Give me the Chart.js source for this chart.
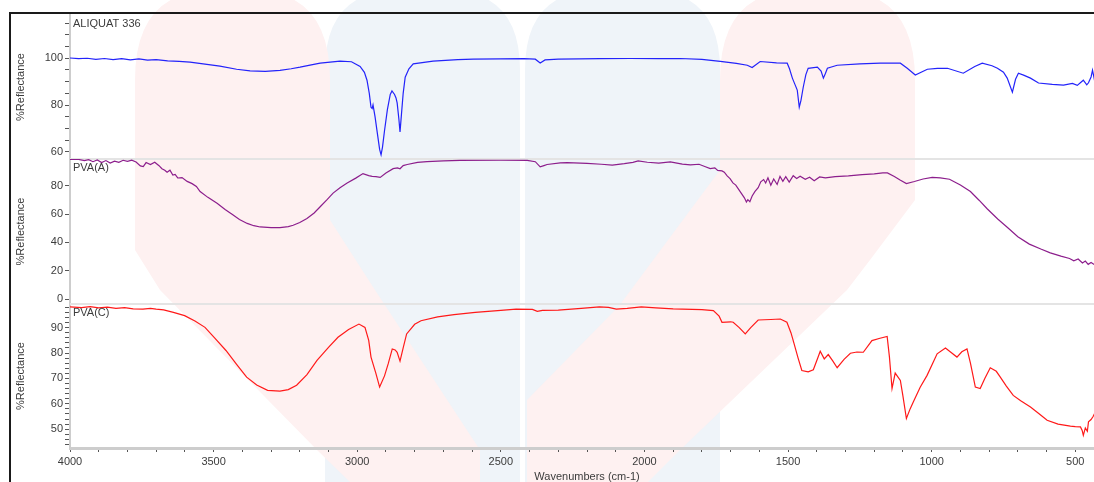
<!DOCTYPE html>
<html>
<head>
<meta charset="utf-8">
<script src="https://cdn.jsdelivr.net/npm/chart.js@4.4.1/dist/chart.umd.min.js"></script>
<style>
  html, body { margin: 0; padding: 0; background: #fff; overflow: hidden; }
  #wrap { position: relative; width: 1094px; height: 482px; overflow: hidden; }
  #ir { position: absolute; left: 0; top: 0; }
  #frame { position: absolute; left: 9px; top: 12px; width: 1200px; height: 600px;
           border-left: 2px solid #1a1a1a; border-top: 2px solid #1a1a1a; pointer-events: none; }
</style>
</head>
<body>
<div id="wrap">
  <canvas id="ir" width="1104" height="482"></canvas>
  <div id="frame"></div>
</div>
<script>
// spectra (wavenumber cm-1 / %reflectance)
const panelNames = ['ALIQUAT 336', 'PVA(A)', 'PVA(C)'];

const aliquatWn = [4000, 3970, 3940, 3910, 3880, 3850, 3820, 3790, 3760, 3730, 3700, 3660, 3620, 3582, 3530, 3478, 3420, 3373, 3320, 3269, 3230, 3199, 3160, 3129, 3060, 3020, 2990, 2975, 2966, 2958, 2952, 2948, 2945, 2938, 2930, 2922, 2917, 2912, 2905, 2895, 2885, 2879, 2870, 2865, 2861, 2855, 2851, 2846, 2840, 2833, 2820, 2805, 2736, 2650, 2596, 2502, 2420, 2380, 2363, 2346, 2300, 2154, 2050, 1950, 1875, 1800, 1736, 1680, 1642, 1625, 1597, 1540, 1503, 1495, 1485, 1475, 1468, 1461, 1455, 1447, 1438, 1430, 1398, 1385, 1377, 1370, 1363, 1329, 1250, 1179, 1109, 1085, 1057, 1015, 980, 945, 890, 850, 824, 790, 771, 750, 737, 719, 708, 698, 680, 656, 628, 580, 541, 510, 493, 472, 460, 454, 445, 440, 433, 420, 405];
const aliquatR = [100.1, 99.8, 100.0, 99.5, 99.9, 99.4, 99.8, 99.3, 99.7, 99.2, 99.4, 98.9, 98.7, 98.3, 97.5, 96.6, 95.3, 94.6, 94.4, 94.8, 95.5, 96.2, 97.2, 97.9, 98.8, 98.5, 96.5, 94.0, 90.6, 85.0, 79.0, 78.5, 80.0, 75.0, 68.0, 61.0, 58.7, 62.0, 69.0, 78.0, 84.5, 86.0, 84.5, 83.0, 80.9, 74.0, 68.5, 76.0, 85.0, 91.9, 95.5, 97.6, 98.8, 99.4, 99.6, 99.7, 99.8, 99.6, 98.0, 99.3, 99.6, 99.8, 99.9, 99.8, 99.9, 99.5, 98.7, 97.8, 97.0, 96.0, 98.6, 98.0, 97.9, 95.5, 91.5, 88.5, 86.4, 79.1, 82.0, 87.7, 93.0, 95.7, 96.2, 94.5, 91.5, 93.5, 95.7, 97.0, 97.6, 97.9, 97.9, 95.7, 92.8, 95.3, 95.7, 95.7, 93.6, 96.5, 97.9, 96.8, 95.7, 94.0, 91.5, 85.5, 91.0, 93.6, 92.8, 91.5, 89.4, 88.8, 88.5, 89.2, 88.4, 90.6, 88.6, 89.5, 92.0, 94.9, 90.6, 91.5, 92.0];

const pvaAWn = [4000, 3970, 3950, 3935, 3920, 3905, 3890, 3875, 3860, 3845, 3830, 3815, 3800, 3785, 3770, 3755, 3745, 3735, 3720, 3705, 3690, 3680, 3670, 3662, 3652, 3642, 3634, 3625, 3610, 3592, 3575, 3560, 3547, 3520, 3488, 3460, 3432, 3410, 3383, 3360, 3338, 3300, 3269, 3240, 3223, 3200, 3175, 3150, 3129, 3105, 3084, 3060, 3035, 3005, 2980, 2960, 2948, 2935, 2920, 2900, 2875, 2860, 2851, 2840, 2826, 2790, 2757, 2700, 2642, 2500, 2408, 2380, 2363, 2350, 2339, 2293, 2269, 2200, 2150, 2112, 2070, 2040, 2022, 1990, 1950, 1910, 1868, 1840, 1810, 1790, 1771, 1755, 1745, 1730, 1722, 1712, 1702, 1692, 1682, 1672, 1662, 1652, 1645, 1640, 1633, 1625, 1615, 1604, 1595, 1585, 1578, 1570, 1560, 1550, 1538, 1528, 1518, 1508, 1496, 1482, 1470, 1458, 1440, 1425, 1409, 1390, 1370, 1336, 1290, 1242, 1200, 1170, 1154, 1130, 1110, 1088, 1060, 1030, 998, 970, 938, 900, 865, 835, 806, 770, 733, 700, 660, 620, 587, 550, 520, 505, 490, 475, 465, 455, 445, 433, 420, 405];
const pvaAR = [98.6, 98.6, 97.8, 98.4, 97.0, 98.2, 96.4, 97.8, 96.0, 97.4, 96.6, 98.0, 97.2, 98.1, 96.8, 94.0, 93.5, 96.4, 95.0, 96.6, 94.2, 92.0, 91.0, 89.5, 91.0, 87.5, 88.0, 85.5, 85.8, 83.1, 81.5, 79.5, 75.9, 71.8, 67.6, 63.3, 59.3, 56.2, 53.4, 51.8, 50.9, 50.5, 50.5, 51.2, 52.1, 54.0, 56.9, 60.8, 65.2, 70.2, 74.8, 78.6, 81.9, 85.4, 88.6, 87.2, 86.6, 86.4, 85.9, 89.0, 92.1, 92.6, 92.0, 94.2, 95.0, 96.5, 97.1, 97.6, 97.9, 98.0, 97.9, 97.0, 93.3, 94.2, 95.0, 96.2, 96.3, 95.8, 95.2, 94.6, 95.6, 96.5, 97.5, 96.6, 96.0, 96.8, 95.3, 94.8, 95.2, 93.6, 92.1, 92.6, 90.8, 90.5, 89.6, 87.0, 85.0, 82.0, 80.5, 77.5, 74.5, 71.5, 68.5, 70.2, 68.8, 72.8, 76.0, 78.6, 82.8, 84.4, 82.0, 85.6, 80.4, 84.8, 80.9, 86.6, 83.2, 86.4, 82.6, 87.1, 85.2, 86.8, 84.6, 86.0, 83.6, 86.2, 85.6, 86.4, 87.0, 87.9, 88.4, 89.1, 89.1, 86.5, 84.0, 81.6, 83.0, 84.8, 85.9, 85.6, 84.6, 80.5, 75.9, 69.8, 63.6, 56.5, 50.0, 44.0, 38.8, 35.3, 32.6, 30.3, 28.6, 27.0, 28.3, 25.5, 26.8, 24.5, 25.8, 24.2, 23.8, 23.5];

const pvaCWn = [4000, 3960, 3930, 3900, 3870, 3840, 3810, 3780, 3746, 3720, 3700, 3674, 3640, 3601, 3565, 3530, 3495, 3457, 3420, 3385, 3350, 3312, 3269, 3240, 3211, 3175, 3140, 3100, 3067, 3030, 2994, 2973, 2960, 2952, 2935, 2922, 2905, 2892, 2878, 2868, 2861, 2851, 2840, 2828, 2800, 2778, 2720, 2663, 2589, 2500, 2447, 2390, 2373, 2355, 2300, 2220, 2157, 2125, 2098, 2060, 2011, 1960, 1900, 1868, 1800, 1760, 1740, 1730, 1700, 1691, 1670, 1649, 1630, 1604, 1560, 1527, 1504, 1490, 1482, 1465, 1452, 1430, 1412, 1395, 1388, 1374, 1360, 1345, 1329, 1305, 1283, 1260, 1238, 1208, 1180, 1155, 1147, 1138, 1127, 1109, 1100, 1088, 1075, 1064, 1040, 1016, 981, 952, 930, 912, 895, 877, 865, 848, 831, 815, 796, 775, 761, 740, 716, 690, 656, 625, 598, 560, 517, 500, 482, 476, 472, 465, 458, 454, 445, 438, 433, 420, 405];
const pvaCR = [98.2, 97.9, 98.3, 97.8, 98.1, 97.6, 97.9, 97.4, 97.3, 97.6, 97.3, 97.0, 96.0, 94.7, 92.6, 90.1, 85.8, 81.0, 75.5, 70.5, 67.4, 65.3, 65.0, 65.6, 67.3, 71.5, 77.1, 82.2, 86.2, 89.3, 91.4, 90.1, 85.0, 78.4, 72.0, 66.6, 71.0, 75.8, 81.6, 81.2, 80.3, 76.8, 82.0, 87.5, 91.3, 92.7, 94.2, 95.1, 96.0, 96.8, 97.3, 97.2, 96.4, 96.8, 96.9, 97.6, 98.2, 98.0, 97.3, 97.6, 98.2, 97.8, 97.4, 97.3, 97.1, 96.7, 94.5, 92.1, 92.3, 92.1, 90.0, 87.5, 90.0, 93.0, 93.2, 93.4, 92.1, 88.0, 84.9, 78.0, 73.1, 72.6, 73.4, 78.5, 80.7, 77.7, 79.4, 77.0, 74.2, 77.5, 79.9, 80.4, 80.3, 84.9, 85.8, 86.5, 78.4, 66.0, 72.1, 69.2, 63.0, 54.2, 58.0, 60.7, 66.5, 71.2, 79.7, 82.0, 80.0, 78.4, 80.5, 81.6, 76.0, 66.6, 66.0, 70.0, 74.2, 72.8, 70.5, 67.0, 63.3, 61.2, 58.7, 56.0, 53.5, 52.0, 51.2, 51.0, 50.9, 49.5, 47.6, 50.5, 49.2, 52.9, 53.8, 55.0, 56.1, 57.5, 58.0];

const FONT = '"Liberation Sans", Arial, sans-serif';
Chart.defaults.font.family = FONT;
Chart.defaults.font.size = 11;
Chart.defaults.color = '#3c3c3c';

function pts(wn, r) {
  return wn.map((w, i) => ({ x: w, y: r[i] }));
}

// one stacked %Reflectance axis per panel
function yAxis(min, max, step, labelStep, weight, h) {
  return {
    type: 'linear', position: 'left', stack: 'ir', stackWeight: h, weight: weight,
    min: min, max: max,
    afterBuildTicks: s => {
      const t = [];
      for (let v = Math.ceil(min / step) * step; v <= max; v += step) t.push({ value: v });
      s.ticks = t;
    },
    afterFit: s => { s.width = 60; },
    ticks: { autoSkip: false, padding: 2, callback: v => (v % labelStep === 0 ? String(v) : '') },
    grid: { drawOnChartArea: false, tickLength: 5, color: '#555' },
    border: { color: '#cdcdcd', width: 2 },
    title: { display: true, text: '%Reflectance', color: '#3c3c3c' }
  };
}

// faint logo behind the plot
function armPath(ctx, p) {
  ctx.beginPath();
  ctx.moveTo(p[0][0], p[0][1]);
  for (let i = 1; i < p.length; i++) {
    if (p[i].length === 4) ctx.quadraticCurveTo(p[i][0], p[i][1], p[i][2], p[i][3]);
    else ctx.lineTo(p[i][0], p[i][1]);
  }
  ctx.closePath();
  ctx.fill();
}
const watermark = {
  id: 'watermark',
  beforeDraw(chart) {
    const ctx = chart.ctx;
    ctx.save();
    ctx.fillStyle = 'rgb(239,244,249)';
    armPath(ctx, [[325, 482], [325, 70], [325, -10, 400, -10], [445, -10], [520, -10, 520, 70], [520, 482]]);
    armPath(ctx, [[525, 482], [525, 70], [525, -10, 600, -10], [645, -10], [720, -10, 720, 70], [720, 482]]);
    ctx.fillStyle = 'rgb(254,241,241)';
    armPath(ctx, [[135, 80], [135, -10, 215, -10], [250, -10], [330, -10, 330, 80], [330, 220], [375, 290], [480, 450], [480, 482], [350, 482], [317, 450], [160, 290], [135, 250]]);
    armPath(ctx, [[720, 80], [720, -10, 800, -10], [835, -10], [915, -10, 915, 80], [915, 200], [870, 260], [847, 290], [680, 450], [648, 482], [527, 482], [527, 400], [619, 306], [720, 170]]);
    ctx.restore();
  }
};

// panel separators and names
const panels = {
  id: 'panels',
  beforeDatasetsDraw(chart) {
    const ctx = chart.ctx, a = chart.chartArea;
    ctx.save();
    ctx.strokeStyle = '#e4e4e4';
    ctx.lineWidth = 2;
    ['yB', 'yC'].forEach(id => {
      const t = chart.scales[id].top;
      ctx.beginPath(); ctx.moveTo(a.left, t); ctx.lineTo(a.right, t); ctx.stroke();
    });
    ctx.restore();
  },
  afterDatasetsDraw(chart) {
    const ctx = chart.ctx, a = chart.chartArea;
    ctx.save();
    ctx.font = '11px ' + FONT;
    ctx.fillStyle = '#3c3c3c';
    ctx.textBaseline = 'top';
    ['yA', 'yB', 'yC'].forEach((id, i) => {
      ctx.fillText(panelNames[i], a.left + 3, chart.scales[id].top + 3);
    });
    ctx.restore();
  }
};

new Chart(document.getElementById('ir'), {
  type: 'line',
  data: {
    datasets: [
      { label: panelNames[0], data: pts(aliquatWn, aliquatR), yAxisID: 'yA', borderColor: 'rgb(35,35,250)' },
      { label: panelNames[1], data: pts(pvaAWn, pvaAR), yAxisID: 'yB', borderColor: 'rgb(140,30,140)' },
      { label: panelNames[2], data: pts(pvaCWn, pvaCR), yAxisID: 'yC', borderColor: 'rgb(255,25,25)' }
    ]
  },
  options: {
    responsive: false,
    animation: false,
    devicePixelRatio: 1,
    layout: { padding: { top: 15, left: 10, right: 0, bottom: 0 } },
    elements: {
      point: { radius: 0 },
      line: { borderWidth: 1.2, tension: 0 }
    },
    plugins: { legend: { display: false }, tooltip: { enabled: false } },
    scales: {
      x: {
        type: 'linear', reverse: true, min: 400, max: 4000,
        afterBuildTicks: s => {
          const t = [];
          for (let v = 500; v <= 4000; v += 100) t.push({ value: v });
          s.ticks = t;
        },
        afterFit: s => { s.height = 34; },
        ticks: { autoSkip: false, maxRotation: 0, padding: 3, callback: v => (v % 500 === 0 ? String(v) : '') },
        grid: { drawOnChartArea: false, tickLength: 4, color: '#555' },
        border: { color: '#cdcdcd', width: 3 },
        title: { display: true, text: 'Wavenumbers (cm-1)', padding: { top: 1, bottom: -2 } }
      },
      yA: yAxis(56.9, 118.5, 5, 20, 3, 144),
      yB: yAxis(-3.5, 98.9, 20, 20, 2, 145),
      yC: yAxis(42.6, 99.3, 2, 10, 1, 144)
    }
  },
  plugins: [watermark, panels]
});
</script>
</body>
</html>
